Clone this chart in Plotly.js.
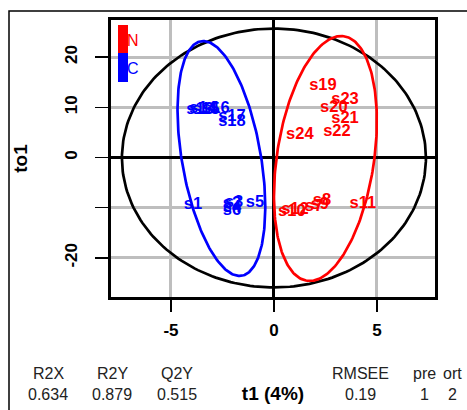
<!DOCTYPE html>
<html>
<head>
<meta charset="utf-8">
<script src="https://cdn.plot.ly/plotly-3.0.1.min.js"></script>
<style>
html,body{margin:0;padding:0;background:#fff;}
#chart{width:467px;height:410px;}
</style>
</head>
<body>
<div id="chart"></div>
<script>
// ---- data ----
var labelsC = ['s1','s2','s3','s4','s5','s6','s13','s14','s15','s16','s17','s18'];
var t1C     = [-3.93,-2.04,-1.94,-2.04,-0.92,-2.04,-3.59,-3.45,-3.30,-2.82,-2.04,-2.04];
var to1C    = [-9.45,-9.25,-9.05,-10.05,-9.05,-10.65,9.45,9.65,9.45,9.65,8.06,7.06];

var labelsN = ['s7','s8','s9','s10','s11','s12','s19','s20','s21','s22','s23','s24'];
var t1N     = [1.94,2.33,2.23,0.87,4.32,1.02,2.38,2.91,3.45,3.06,3.45,1.26];
var to1N    = [-9.85,-8.66,-9.45,-10.85,-9.25,-10.45,14.23,9.85,7.66,5.07,11.44,4.48];

var groupNames = ['N','C'];
var xTickVals = [-5,0,5];
var xTickText = ['-5','0','5'];
var yTickVals = [-20,-10,0,10,20];
var yTickText = ['-20','','0','10','20'];
var statNames  = ['R2X','R2Y','Q2Y','RMSEE','pre','ort'];
var statValues = ['0.634','0.879','0.515','0.19','1','2'];
var xTitle = 't1 (4%)';
var yTitle = 'to1';

// ellipse parameters (centre, vertical semi-axis, horizontal part, shear)
var ellAll = {cx:0.0,  cy:-0.1, ry:25.8, rx:7.38, s:0.0};
var ellC   = {cx:-2.55, cy:-0.2, ry:23.4, rx:1.94, s:-0.88};
var ellN   = {cx:2.50, cy:-0.2, ry:24.4, rx:2.38, s:0.76};

function ellipse(e){
  var xs=[], ys=[], n=240;
  for(var i=0;i<=n;i++){
    var t=2*Math.PI*i/n;
    xs.push(e.cx + e.rx*Math.cos(t) + e.s*Math.sin(t));
    ys.push(e.cy + e.ry*Math.sin(t));
  }
  return {x:xs,y:ys};
}

var RED='#FF0000', BLUE='#0000FF';
var FONT='"Liberation Sans", Arial, Helvetica, sans-serif';

var eA=ellipse(ellAll), eC=ellipse(ellC), eN=ellipse(ellN);

var traces = [
  {x:eA.x, y:eA.y, mode:'lines', line:{color:'#000000', width:2.7}, hoverinfo:'skip', showlegend:false},
  {x:eC.x, y:eC.y, mode:'lines', line:{color:BLUE, width:2.7}, hoverinfo:'skip', showlegend:false},
  {x:eN.x, y:eN.y, mode:'lines', line:{color:RED, width:2.7}, hoverinfo:'skip', showlegend:false},
  {x:t1C, y:to1C, text:labelsC, mode:'text', textposition:'middle center',
   textfont:{family:FONT, size:16.5, color:BLUE, weight:'bold'}, name:'C', showlegend:false},
  {x:t1N, y:to1N, text:labelsN, mode:'text', textposition:'middle center',
   textfont:{family:FONT, size:16.5, color:RED, weight:'bold'}, name:'N', showlegend:false}
];

// pixel helpers for decorations outside the data area
var L=111, R=435, T=20, B=297;
function px(x){return (x-L)/(R-L);}
function py(y){return (B-y)/(B-T);}

var annotations = [];
var statX = [48,112,177,360,424,452];
for(var i=0;i<statNames.length;i++){
  annotations.push({xref:'paper', yref:'paper', x:px(statX[i]), y:py(373), text:statNames[i],
    showarrow:false, xanchor:'center', yanchor:'middle', font:{family:FONT,size:16,color:'#222'}});
  annotations.push({xref:'paper', yref:'paper', x:px(statX[i]), y:py(394), text:statValues[i],
    showarrow:false, xanchor:'center', yanchor:'middle', font:{family:FONT,size:16,color:'#222'}});
}
annotations.push({xref:'paper', yref:'paper', x:px(133), y:py(40), text:groupNames[0], showarrow:false,
  xanchor:'center', yanchor:'middle', font:{family:FONT,size:16,color:RED}});
annotations.push({xref:'paper', yref:'paper', x:px(133), y:py(68), text:groupNames[1], showarrow:false,
  xanchor:'center', yanchor:'middle', font:{family:FONT,size:16,color:BLUE}});

var shapes = [
  {type:'rect', xref:'paper', yref:'paper', x0:px(118), x1:px(128), y0:py(25), y1:py(53),
   fillcolor:RED, line:{width:0}},
  {type:'rect', xref:'paper', yref:'paper', x0:px(118), x1:px(128), y0:py(53), y1:py(82),
   fillcolor:BLUE, line:{width:0}},
  {type:'rect', xref:'paper', yref:'paper', x0:px(9), x1:px(520), y0:py(11), y1:py(460),
   line:{color:'#000', width:1.5}, fillcolor:'rgba(0,0,0,0)', layer:'below'}
];

var layout = {
  width:467, height:410,
  margin:{l:L, r:467-R, t:T, b:410-B, pad:0},
  paper_bgcolor:'#fff', plot_bgcolor:'#fff',
  showlegend:false,
  font:{family:FONT, color:'#000'},
  xaxis:{
    range:[-7.91,7.82], tickvals:xTickVals, ticktext:xTickText,
    ticks:'outside', ticklen:12, tickwidth:1.5, tickcolor:'#000',
    tickfont:{family:FONT, size:17, weight:'bold', color:'#000'},
    ticklabelstandoff:4,
    showgrid:true, gridcolor:'#BEBEBE', gridwidth:3,
    zeroline:true, zerolinecolor:'#000', zerolinewidth:3,
    showline:true, mirror:true, linecolor:'#000', linewidth:3,
    title:{text:xTitle, font:{family:FONT, size:19, weight:'bold', color:'#000'}, standoff:48},
    fixedrange:true
  },
  yaxis:{
    range:[-27.8,27.4], tickvals:yTickVals, ticktext:yTickText, tickangle:-90,
    ticks:'outside', ticklen:13, tickwidth:1.5, tickcolor:'#000',
    tickfont:{family:FONT, size:17, weight:'bold', color:'#000'},
    ticklabelstandoff:11,
    showgrid:true, gridcolor:'#BEBEBE', gridwidth:3,
    zeroline:true, zerolinecolor:'#000', zerolinewidth:3,
    showline:true, mirror:true, linecolor:'#000', linewidth:3,
    title:{text:yTitle, font:{family:FONT, size:19, weight:'bold', color:'#000'}, standoff:30},
    fixedrange:true
  },
  annotations:annotations,
  shapes:shapes
};

Plotly.newPlot('chart', traces, layout, {displayModeBar:false, staticPlot:true});
</script>
</body>
</html>
